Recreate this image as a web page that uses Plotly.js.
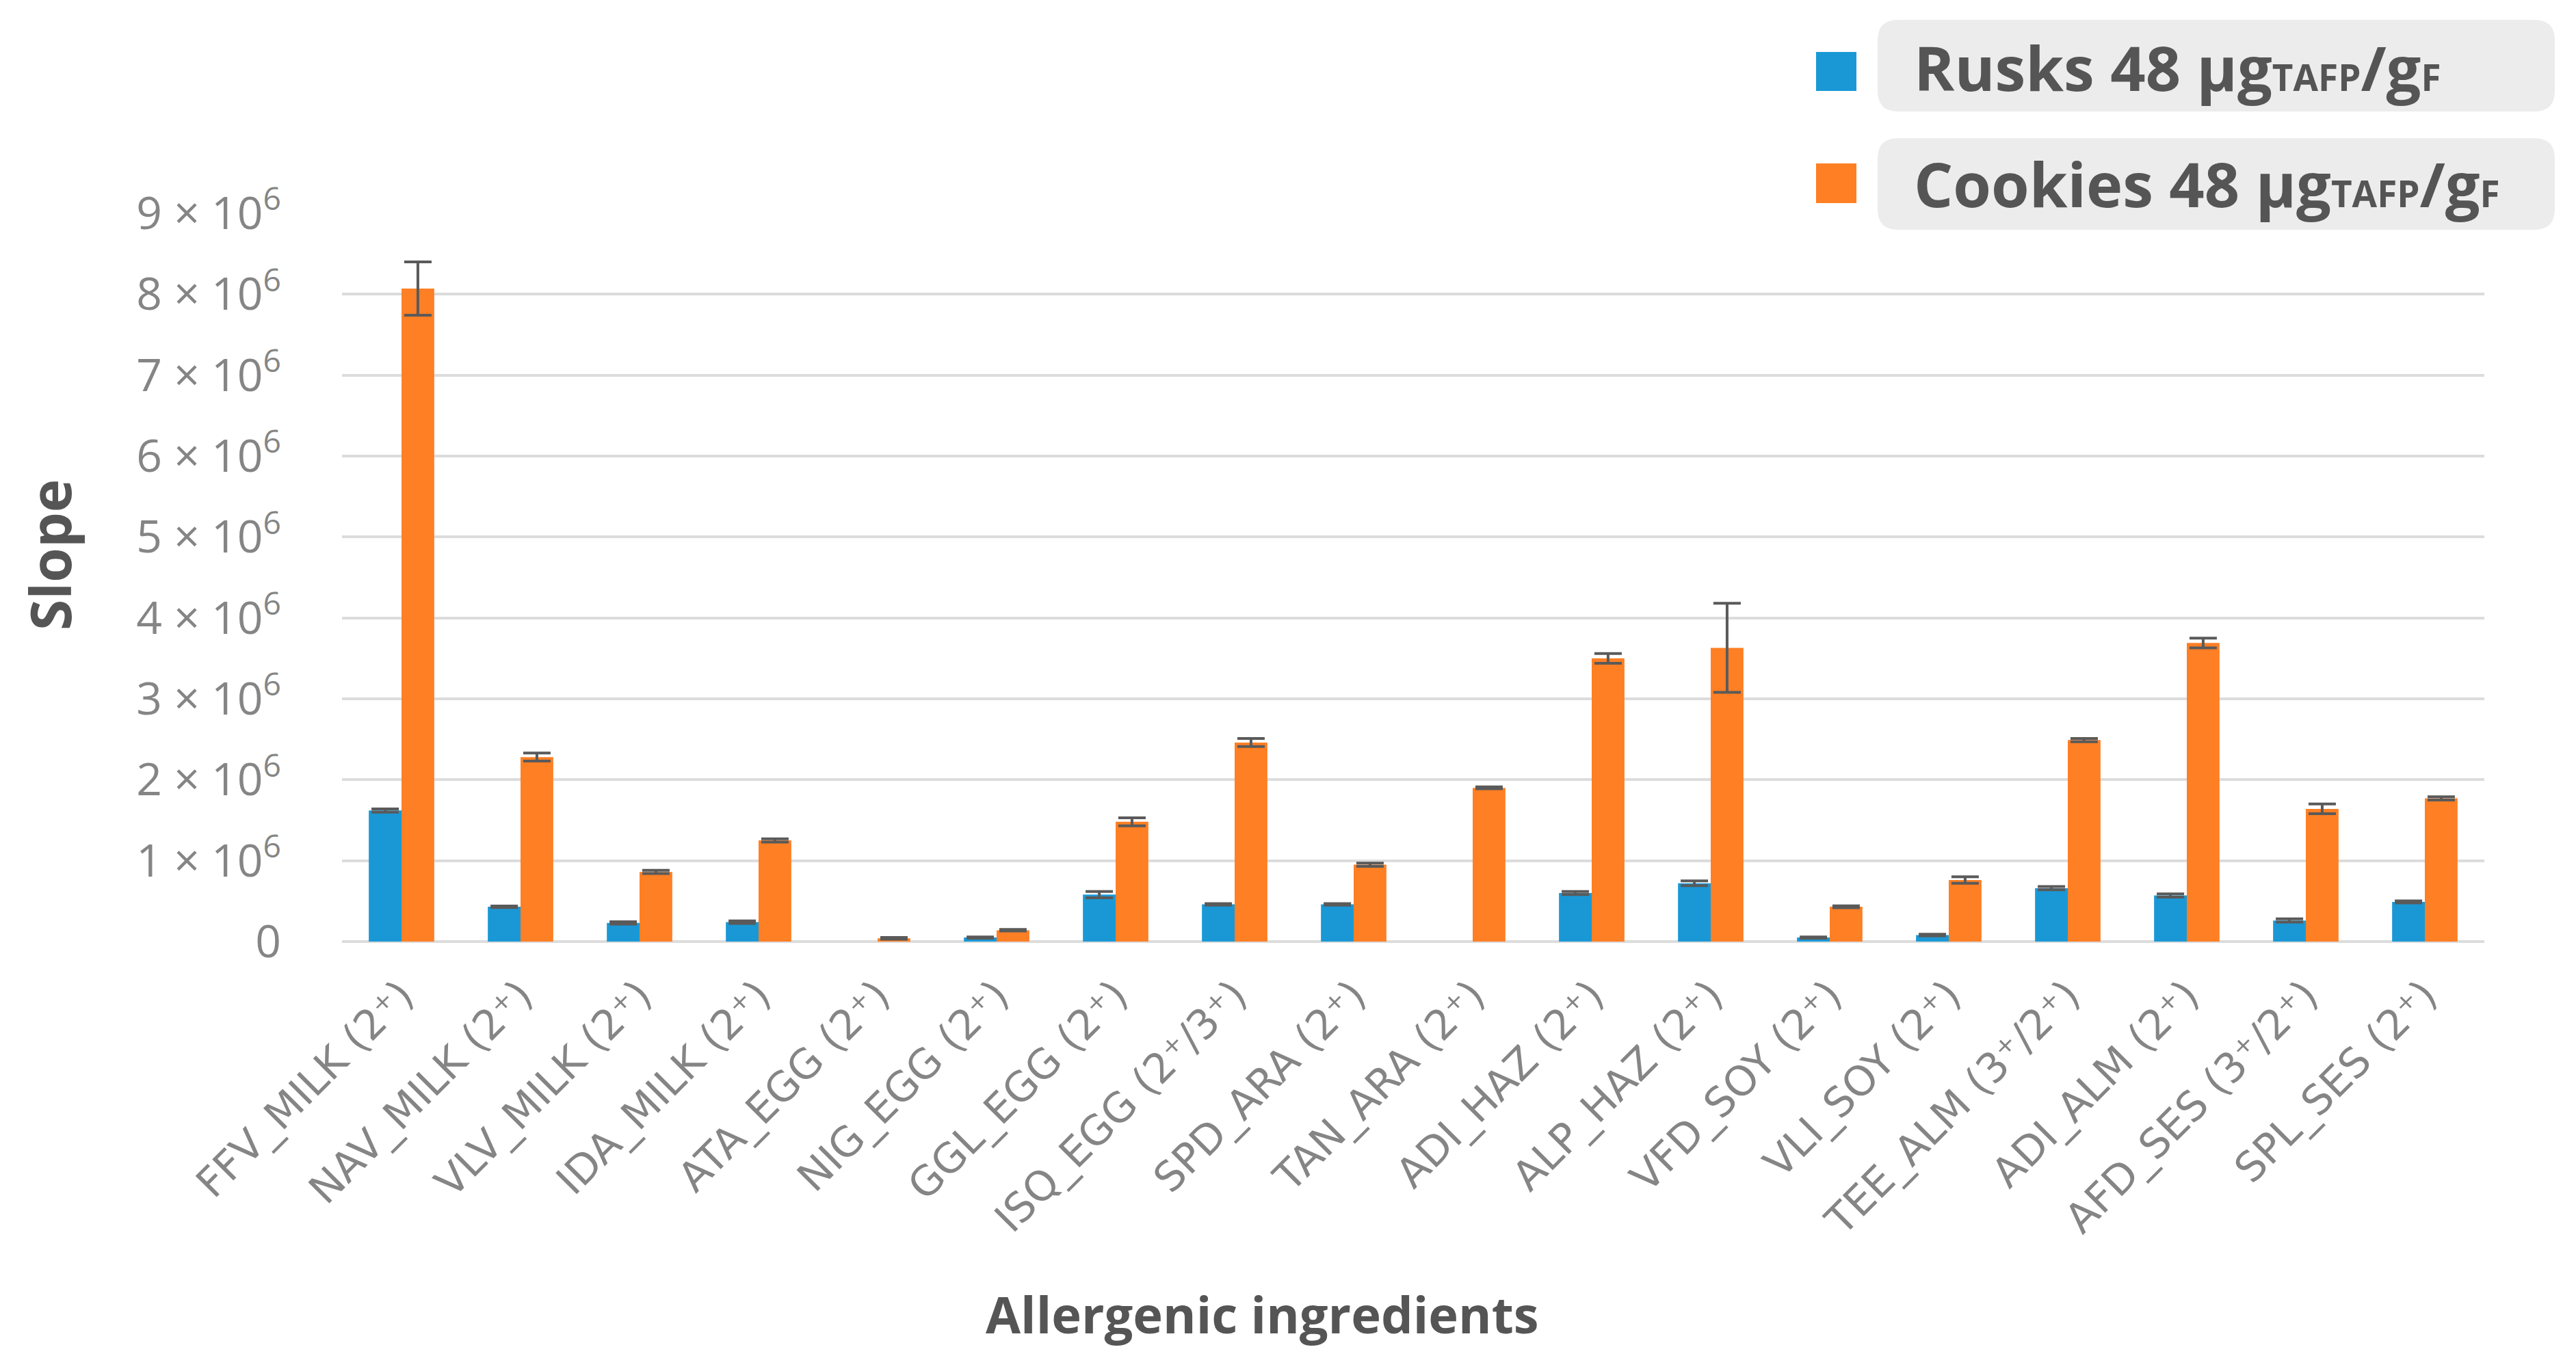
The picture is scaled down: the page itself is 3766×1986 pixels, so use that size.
<!DOCTYPE html>
<html>
<head>
<meta charset="utf-8">
<script src="https://cdn.plot.ly/plotly-3.0.1.min.js"></script>
<style>html,body{margin:0;padding:0;background:#fff;}#chart{width:3766px;height:1986px;}</style>
</head>
<body>
<div id="chart"></div>
<script>
// ---- data ----
const categories = [
  "FFV_MILK (2⁺)", "NAV_MILK (2⁺)", "VLV_MILK (2⁺)", "IDA_MILK (2⁺)",
  "ATA_EGG (2⁺)", "NIG_EGG (2⁺)", "GGL_EGG (2⁺)", "ISQ_EGG (2⁺/3⁺)",
  "SPD_ARA (2⁺)", "TAN_ARA (2⁺)", "ADI_HAZ (2⁺)", "ALP_HAZ (2⁺)",
  "VFD_SOY (2⁺)", "VLI_SOY (2⁺)", "TEE_ALM (3⁺/2⁺)", "ADI_ALM (2⁺)",
  "AFD_SES (3⁺/2⁺)", "SPL_SES (2⁺)"
];
const rusks = [1620000, 430000, 230000, 240000, null, 50000, 580000, 460000, 460000, null, 600000, 720000, 50000, 80000, 660000, 570000, 260000, 490000];
const rusksErr = [20000, 10000, 15000, 15000, null, 8000, 40000, 10000, 10000, null, 20000, 30000, 8000, 10000, 20000, 20000, 20000, 12000];
const cookies = [8070000, 2280000, 860000, 1250000, 40000, 140000, 1480000, 2460000, 950000, 1900000, 3500000, 3630000, 430000, 760000, 2490000, 3690000, 1640000, 1770000];
const cookiesErr = [330000, 50000, 20000, 20000, 10000, 10000, 50000, 50000, 20000, 12000, 60000, 550000, 12000, 40000, 20000, 60000, 60000, 20000];
const yTickVals = [0, 1000000, 2000000, 3000000, 4000000, 5000000, 6000000, 7000000, 8000000, 9000000];
const yTickText = ["0", "1 × 10<sup>6</sup>", "2 × 10<sup>6</sup>", "3 × 10<sup>6</sup>", "4 × 10<sup>6</sup>",
  "5 × 10<sup>6</sup>", "6 × 10<sup>6</sup>", "7 × 10<sup>6</sup>", "8 × 10<sup>6</sup>", "9 × 10<sup>6</sup>"];
const seriesNames = ["Rusks 48 μg<span style=\"font-size:53px\">TAFP</span>/g<span style=\"font-size:53px\">F</span>",
                     "Cookies 48 μg<span style=\"font-size:53px\">TAFP</span>/g<span style=\"font-size:53px\">F</span>"];
const xTitle = "Allergenic ingredients";
const yTitle = "Slope";

// ---- styling ----
const BLUE = "#1a98d6", ORANGE = "#fe7f24", TXT = "#555555", TICK = "#858585";
const W = 3766, H = 1986;
const L = 500, R = 3632, T = 312, B = 1377;
const px = x => (x - L) / (R - L);
const py = y => (B - y) / (B - T);

function roundRect(x0, y0, x1, y1, r) {
  const p = (x, y) => px(x).toFixed(5) + "," + py(y).toFixed(5);
  return "M" + p(x0 + r, y0) + " L" + p(x1 - r, y0) + " Q" + p(x1, y0) + " " + p(x1, y0 + r) +
    " L" + p(x1, y1 - r) + " Q" + p(x1, y1) + " " + p(x1 - r, y1) +
    " L" + p(x0 + r, y1) + " Q" + p(x0, y1) + " " + p(x0, y1 - r) +
    " L" + p(x0, y0 + r) + " Q" + p(x0, y0) + " " + p(x0 + r, y0) + " Z";
}

const errStyle = { type: "data", visible: true, color: "#5a5a5a", thickness: 4, width: 20 };

const traces = [
  { type: "bar", name: "Rusks", x: categories, y: rusks, marker: { color: BLUE },
    error_y: Object.assign({ array: rusksErr }, errStyle), showlegend: false, hoverinfo: "y" },
  { type: "bar", name: "Cookies", x: categories, y: cookies, marker: { color: ORANGE },
    error_y: Object.assign({ array: cookiesErr }, errStyle), showlegend: false, hoverinfo: "y" }
];

const shapes = [
  { type: "path", xref: "paper", yref: "paper", path: roundRect(2745, 29, 3735, 163, 30),
    fillcolor: "#ececec", line: { width: 0 }, layer: "above" },
  { type: "path", xref: "paper", yref: "paper", path: roundRect(2745, 202, 3735, 336, 30),
    fillcolor: "#ececec", line: { width: 0 }, layer: "above" },
  { type: "rect", xref: "paper", yref: "paper", x0: px(2655), x1: px(2714), y0: py(76), y1: py(133),
    fillcolor: BLUE, line: { width: 0 }, layer: "above" },
  { type: "rect", xref: "paper", yref: "paper", x0: px(2655), x1: px(2714), y0: py(239), y1: py(297),
    fillcolor: ORANGE, line: { width: 0 }, layer: "above" }
];

const annotations = [
  { xref: "paper", yref: "paper", x: px(2796), y: py(98), xanchor: "left", yanchor: "middle",
    text: "<b>" + seriesNames[0] + "</b>", showarrow: false,
    font: { family: "Open Sans, sans-serif", size: 90, color: TXT } },
  { xref: "paper", yref: "paper", x: px(2796), y: py(268), xanchor: "left", yanchor: "middle",
    text: "<b>" + seriesNames[1] + "</b>", showarrow: false,
    font: { family: "Open Sans, sans-serif", size: 90, color: TXT } },
  { xref: "paper", yref: "paper", x: px(1845), y: py(1921), xanchor: "center", yanchor: "middle",
    text: "<b>" + xTitle + "</b>", showarrow: false,
    font: { family: "Open Sans, sans-serif", size: 74, color: TXT } },
  { xref: "paper", yref: "paper", x: px(72), y: py(812), xanchor: "center", yanchor: "middle",
    text: "<b>" + yTitle + "</b>", textangle: -90, showarrow: false,
    font: { family: "Open Sans, sans-serif", size: 82, color: TXT } }
];

const layout = {
  width: W, height: H,
  margin: { l: L, r: W - R, t: T, b: H - B, pad: 0 },
  paper_bgcolor: "#ffffff", plot_bgcolor: "#ffffff",
  barmode: "group", bargap: 0.45, bargroupgap: 0,
  showlegend: false,
  xaxis: {
    type: "category", showgrid: false, showline: false, zeroline: false,
    ticks: "", tickangle: -45, ticklabelstandoff: 30,
    tickfont: { family: "DejaVu Sans, sans-serif", size: 60, color: TICK }
  },
  yaxis: {
    range: [0, 9000000], tickmode: "array", tickvals: yTickVals, ticktext: yTickText,
    showgrid: true, gridcolor: "#dcdcdc", gridwidth: 4,
    zeroline: true, zerolinecolor: "#dcdcdc", zerolinewidth: 4,
    showline: false, ticks: "", ticklabelstandoff: 88,
    tickfont: { family: "Open Sans, sans-serif", size: 66, color: TICK }
  },
  shapes: shapes,
  annotations: annotations
};

Plotly.newPlot("chart", traces, layout, { staticPlot: true, displayModeBar: false });
</script>
</body>
</html>
